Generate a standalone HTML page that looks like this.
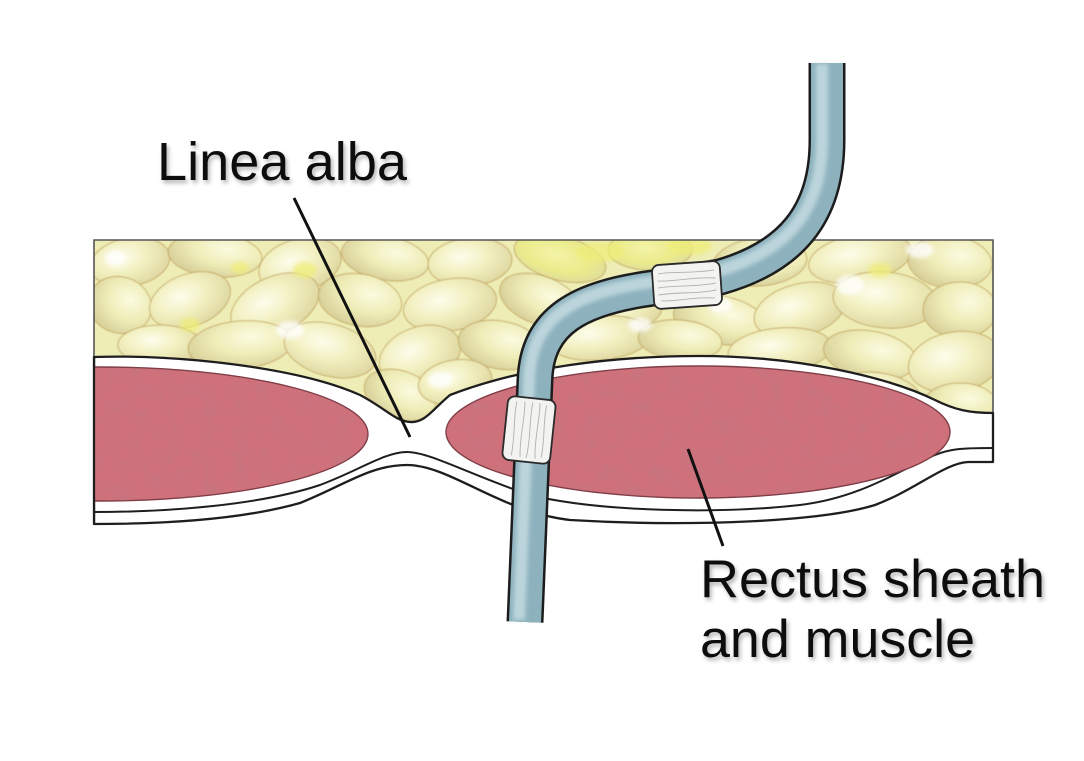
<!DOCTYPE html>
<html><head><meta charset="utf-8"><style>
html,body{margin:0;padding:0;background:#fff;}
svg{display:block;}
</style></head><body>
<svg width="1084" height="761" viewBox="0 0 1084 761" xmlns="http://www.w3.org/2000/svg">
<defs>
<radialGradient id="lob" cx="40%" cy="38%" r="65%"><stop offset="0" stop-color="#fdfdec"/><stop offset="0.5" stop-color="#f2f0c0"/><stop offset="1" stop-color="#dfd8a2"/></radialGradient>
<radialGradient id="lob2" cx="62%" cy="35%" r="65%"><stop offset="0" stop-color="#fbfbe0"/><stop offset="0.55" stop-color="#efedb8"/><stop offset="1" stop-color="#dad29c"/></radialGradient>
<radialGradient id="lobY" cx="45%" cy="45%" r="60%"><stop offset="0" stop-color="#f4f4a8"/><stop offset="0.6" stop-color="#ebeb8c"/><stop offset="1" stop-color="#dedc9c"/></radialGradient>
<clipPath id="fatclip"><rect x="94" y="240" width="899" height="190"/></clipPath>
<filter id="noise" x="0" y="0" width="100%" height="100%"><feTurbulence type="fractalNoise" baseFrequency="0.06" numOctaves="2" seed="5" result="t"/><feColorMatrix in="t" type="matrix" values="0 0 0 0 0.45 0 0 0 0 0.2 0 0 0 0 0.25 0 0 0 1.6 -0.65" result="c"/><feComposite in="c" in2="SourceAlpha" operator="in"/></filter>
<filter id="sh" x="-10%" y="-20%" width="120%" height="150%"><feDropShadow dx="2" dy="3" stdDeviation="2" flood-color="#000" flood-opacity="0.3"/></filter>
<filter id="blur2"><feGaussianBlur stdDeviation="2"/></filter>
<filter id="blur1"><feGaussianBlur stdDeviation="0.6"/></filter>
</defs>

<!-- fat layer -->
<g clip-path="url(#fatclip)">
<rect x="94" y="240" width="899" height="190" fill="#eeedb6"/>
<g stroke="#c2a55e" stroke-width="1.3" stroke-opacity="0.65" filter="url(#blur1)">
<ellipse cx="130" cy="262" rx="40" ry="24" transform="rotate(-10 130 262)" fill="url(#lob)"/>
<ellipse cx="215" cy="255" rx="47" ry="22" transform="rotate(5 215 255)" fill="url(#lob2)"/>
<ellipse cx="300" cy="265" rx="42" ry="26" transform="rotate(-15 300 265)" fill="url(#lob)"/>
<ellipse cx="385" cy="258" rx="44" ry="22" transform="rotate(10 385 258)" fill="url(#lob2)"/>
<ellipse cx="470" cy="262" rx="42" ry="24" transform="rotate(-5 470 262)" fill="url(#lob)"/>
<ellipse cx="560" cy="258" rx="47" ry="22" transform="rotate(15 560 258)" fill="url(#lobY)"/>
<ellipse cx="650" cy="250" rx="42" ry="20" fill="url(#lobY)"/>
<ellipse cx="760" cy="262" rx="47" ry="24" transform="rotate(-5 760 262)" fill="url(#lob2)"/>
<ellipse cx="860" cy="258" rx="52" ry="24" transform="rotate(-10 860 258)" fill="url(#lob)"/>
<ellipse cx="950" cy="262" rx="42" ry="26" transform="rotate(5 950 262)" fill="url(#lob2)"/>
<ellipse cx="120" cy="305" rx="32" ry="28" transform="rotate(20 120 305)" fill="url(#lob2)"/>
<ellipse cx="190" cy="300" rx="42" ry="26" transform="rotate(-20 190 300)" fill="url(#lob)"/>
<ellipse cx="275" cy="305" rx="47" ry="28" transform="rotate(-25 275 305)" fill="url(#lob)"/>
<ellipse cx="360" cy="300" rx="42" ry="26" transform="rotate(10 360 300)" fill="url(#lob2)"/>
<ellipse cx="450" cy="305" rx="47" ry="26" transform="rotate(-10 450 305)" fill="url(#lob)"/>
<ellipse cx="540" cy="300" rx="42" ry="24" transform="rotate(20 540 300)" fill="url(#lob2)"/>
<ellipse cx="620" cy="310" rx="42" ry="22" transform="rotate(-5 620 310)" fill="url(#lob)"/>
<ellipse cx="720" cy="320" rx="47" ry="24" transform="rotate(10 720 320)" fill="url(#lob2)"/>
<ellipse cx="800" cy="310" rx="47" ry="26" transform="rotate(-15 800 310)" fill="url(#lob)"/>
<ellipse cx="885" cy="300" rx="52" ry="28" transform="rotate(5 885 300)" fill="url(#lob)"/>
<ellipse cx="960" cy="310" rx="37" ry="28" fill="url(#lob2)"/>
<ellipse cx="160" cy="345" rx="42" ry="20" fill="url(#lob)"/>
<ellipse cx="240" cy="345" rx="52" ry="24" transform="rotate(-5 240 345)" fill="url(#lob2)"/>
<ellipse cx="330" cy="350" rx="47" ry="26" transform="rotate(15 330 350)" fill="url(#lob)"/>
<ellipse cx="420" cy="355" rx="42" ry="28" transform="rotate(-20 420 355)" fill="url(#lob)"/>
<ellipse cx="500" cy="345" rx="42" ry="24" transform="rotate(10 500 345)" fill="url(#lob2)"/>
<ellipse cx="600" cy="338" rx="52" ry="22" transform="rotate(-5 600 338)" fill="url(#lob)"/>
<ellipse cx="680" cy="340" rx="42" ry="20" transform="rotate(5 680 340)" fill="url(#lob2)"/>
<ellipse cx="780" cy="350" rx="52" ry="22" transform="rotate(-5 780 350)" fill="url(#lob)"/>
<ellipse cx="870" cy="355" rx="47" ry="24" transform="rotate(10 870 355)" fill="url(#lob2)"/>
<ellipse cx="955" cy="362" rx="47" ry="30" transform="rotate(-10 955 362)" fill="url(#lob)"/>
<ellipse cx="400" cy="395" rx="37" ry="24" transform="rotate(20 400 395)" fill="url(#lob2)"/>
<ellipse cx="455" cy="382" rx="37" ry="22" transform="rotate(-10 455 382)" fill="url(#lob)"/>
<ellipse cx="880" cy="395" rx="42" ry="22" transform="rotate(10 880 395)" fill="url(#lob)"/>
<ellipse cx="960" cy="405" rx="37" ry="22" fill="url(#lob2)"/>
</g>
<g fill="#eeee78" opacity="0.75" filter="url(#blur2)">
<ellipse cx="305" cy="270" rx="12" ry="8"/>
<ellipse cx="190" cy="325" rx="10" ry="7"/>
<ellipse cx="240" cy="268" rx="9" ry="6"/>
<ellipse cx="600" cy="252" rx="24" ry="10"/>
<ellipse cx="690" cy="246" rx="22" ry="9"/>
<ellipse cx="880" cy="270" rx="12" ry="7"/>
</g>
<g fill="#ffffff" opacity="0.8" filter="url(#blur2)">
<ellipse cx="115" cy="258" rx="10" ry="8"/>
<ellipse cx="290" cy="330" rx="14" ry="9"/>
<ellipse cx="440" cy="380" rx="12" ry="8"/>
<ellipse cx="720" cy="305" rx="12" ry="8"/>
<ellipse cx="850" cy="285" rx="14" ry="10"/>
<ellipse cx="920" cy="250" rx="14" ry="8"/>
<ellipse cx="640" cy="325" rx="12" ry="7"/>
</g>
</g>
<!-- fat border -->
<path d="M94,357 L94,240 L993,240 L993,413" fill="none" stroke="#555" stroke-width="1.6"/>

<!-- sheath -->
<path d="M94,357 C180,354 300,368 360,395 C385,408 395,421 410,422 C425,423 432,410 450,395 C520,368 610,356 700,356 C800,356 890,378 935,400 C955,410 970,413 993,413 L993,462 L968,462 C945,463 915,490 875,505 C820,522 690,527 570,520 C500,512 450,465 407,465 C370,465 345,485 300,503 C240,520 160,524 94,524 Z" fill="#fff" stroke="#1e1e1e" stroke-width="2.3" stroke-linejoin="round"/>
<path d="M94,512 C170,512 260,505 320,485 C360,470 385,452 407,452 C430,452 470,475 530,495 C600,512 720,514 800,505 C860,498 900,470 935,455 C950,449 960,448 993,448" fill="none" stroke="#1e1e1e" stroke-width="2"/>

<!-- muscles -->
<ellipse cx="100" cy="434" rx="268" ry="67" fill="#cf717b" stroke="#7e3c45" stroke-width="1.4"/>
<ellipse cx="698" cy="432" rx="252" ry="66" fill="#cf717b" stroke="#7e3c45" stroke-width="1.4"/>
<ellipse cx="100" cy="434" rx="268" ry="67" fill="#000" filter="url(#noise)" opacity="0.35"/>
<ellipse cx="698" cy="432" rx="252" ry="66" fill="#000" filter="url(#noise)" opacity="0.35"/>
<!-- re-cover left edge outside box -->
<rect x="0" y="350" width="93" height="180" fill="#fff"/>
<line x1="94" y1="357" x2="94" y2="524" stroke="#1e1e1e" stroke-width="2.3"/>

<!-- pointer lines -->
<line x1="294" y1="198" x2="410" y2="437" stroke="#111" stroke-width="3"/>
<line x1="688" y1="449" x2="723" y2="546" stroke="#111" stroke-width="3"/>

<!-- tube -->
<g fill="none" stroke-linecap="butt" stroke-linejoin="round">
<path d="M827,63 L827,140 C827,215 790,257 720,277 L653,288 C580,298 537,320 535,380 L525,622" stroke="#1c1c1c" stroke-width="37"/>
<path d="M827,63 L827,140 C827,215 790,257 720,277 L653,288 C580,298 537,320 535,380 L525,622" stroke="#8db2be" stroke-width="32"/>
<path d="M822,64 L822,140 C822,212 786,251 718,271 L651,282 C576,292 531,316 529,380 L519,620" stroke="#c4dbe1" stroke-width="12" opacity="0.85" filter="url(#blur2)"/>
</g>

<!-- cuffs -->
<g transform="translate(687,285) rotate(-4)">
<rect x="-34" y="-22" width="68" height="44" rx="7" fill="#f3f3f1" stroke="#2a2a2a" stroke-width="1.8"/>
<g stroke="#b0b0b0" stroke-width="0.9" fill="none">
<path d="M-28,-13 C-15,-15 0,-11 28,-13"/>
<path d="M-29,-6 C-10,-4 5,-8 29,-5"/>
<path d="M-29,1 C-12,-1 8,3 29,0"/>
<path d="M-29,8 C-8,6 10,10 29,7"/>
<path d="M-27,14 C-10,16 6,12 27,15"/>
</g>
</g>
<g transform="translate(529,430) rotate(6)">
<rect x="-24" y="-32" width="48" height="64" rx="7" fill="#f3f3f1" stroke="#2a2a2a" stroke-width="1.8"/>
<g stroke="#b0b0b0" stroke-width="0.9" fill="none">
<path d="M-15,-27 C-17,-10 -13,5 -15,27"/>
<path d="M-7,-28 C-5,-10 -9,8 -6,28"/>
<path d="M1,-28 C-1,-8 3,10 0,28"/>
<path d="M8,-28 C10,-12 6,8 9,28"/>
<path d="M15,-26 C13,-8 17,6 15,26"/>
</g>
</g>

<!-- labels -->
<g font-family="'Liberation Sans', Arial, sans-serif" fill="#111" filter="url(#sh)">
<text x="157" y="180" font-size="54" textLength="250" lengthAdjust="spacingAndGlyphs">Linea alba</text>
<text x="700" y="597" font-size="53" textLength="345" lengthAdjust="spacingAndGlyphs">Rectus sheath</text>
<text x="700" y="657" font-size="53" textLength="275" lengthAdjust="spacingAndGlyphs">and muscle</text>
</g>
</svg>
</body></html>
